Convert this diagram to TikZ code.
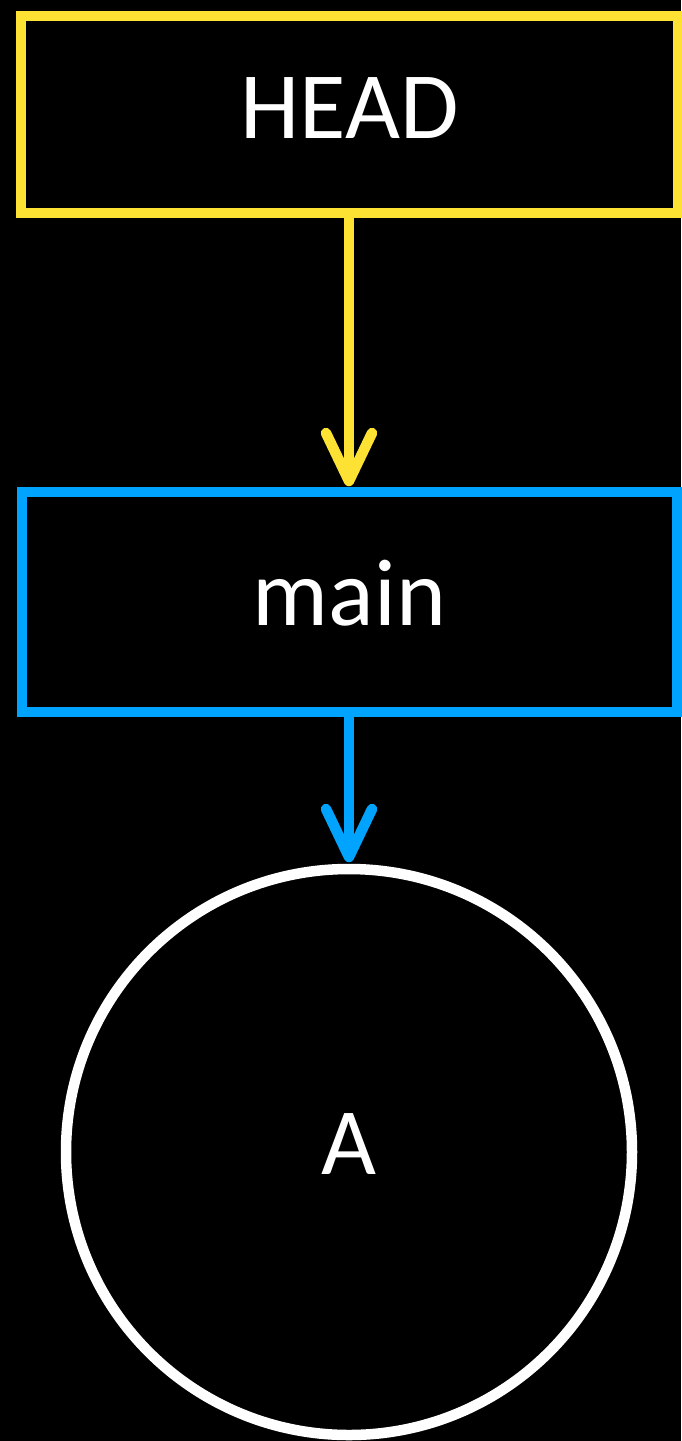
\documentclass[tikz,border=0pt]{standalone}
\usepackage{fontspec}
\setmainfont{Carlito}
\usepackage{tikz}
\usetikzlibrary{arrows.meta,positioning}

\definecolor{headyellow}{RGB}{253,225,51}
\definecolor{branchblue}{RGB}{0,164,255}

\tikzset{
    refbox/.style={draw=#1, line width=10.5pt, rectangle, inner sep=0pt, text=white,
        font=\fontsize{95}{110}\selectfont},
    commit/.style={draw=white, line width=10.5pt, circle, inner sep=0pt, text=white,
        minimum size=566pt, font=\fontsize{95}{110}\selectfont},
    pointer/.style={draw=#1, line width=10.5pt,
        -{Straight Barb[length=48pt, width=46pt, round]}},
}

\begin{document}
\begin{tikzpicture}[x=1pt, y=-1pt]
            % Background
            \fill[black] (0, 0) rectangle (681, 1441);
            \useasboundingbox (0, 0) rectangle (681, 1441);

            % HEAD box
            \node[refbox=headyellow, minimum width=657pt, text height=122pt, text depth=75pt] (head) at (349.5, 114.5) {HEAD};

            % Branch box
            \node[refbox=branchblue, minimum width=655pt, text height=133pt, text depth=87pt] (main) at (349.5, 602) {main};

            % Commit
            \node[commit, text height=80pt, text depth=36pt] (commitA) at (349, 1152) {A};

            % Pointers
            \draw[pointer=headyellow, shorten >=0.5pt] (head.south -| 349, 0) -- (main.north -| 349, 0);
            \draw[pointer=branchblue, shorten >=1.5pt] (main.south -| commitA.north) -- (commitA.north);
        \end{tikzpicture}
\end{document}
